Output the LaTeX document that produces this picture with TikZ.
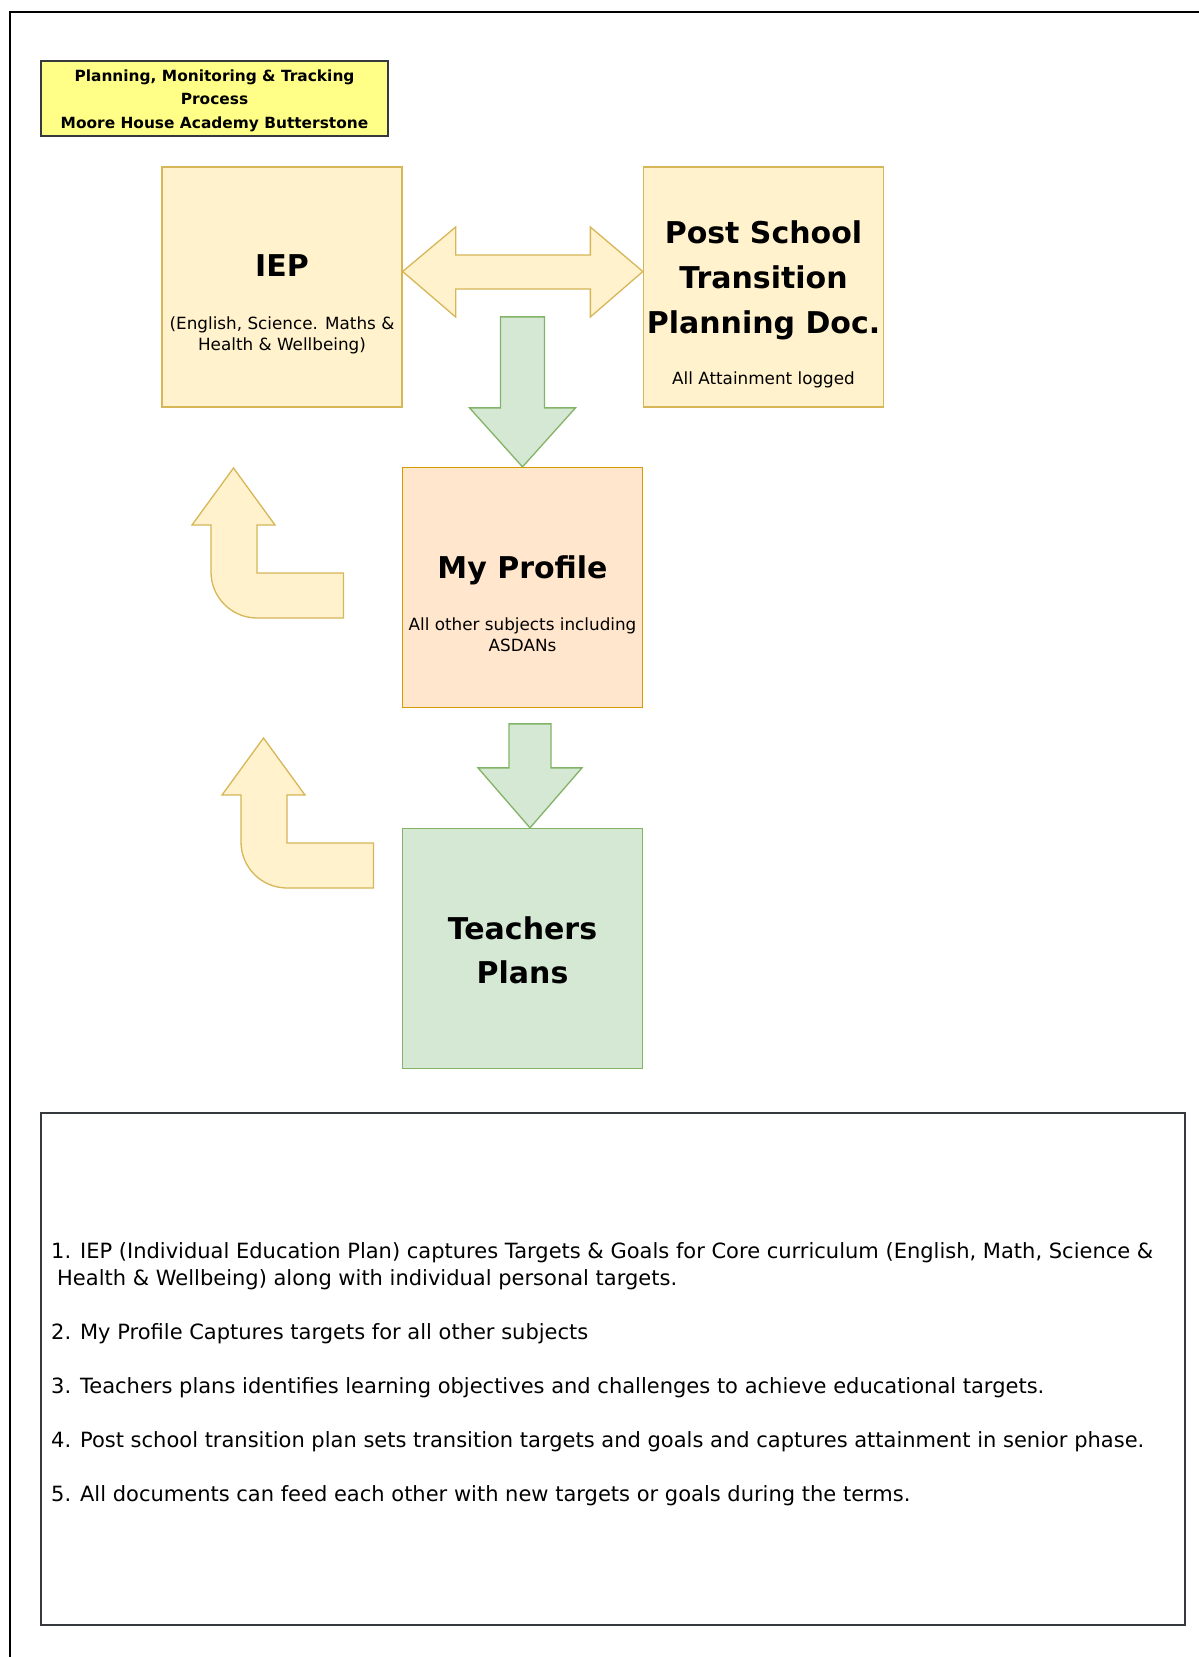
\documentclass[tikz,border=0pt]{standalone}
\usepackage{fontspec}
\setmainfont{DejaVu Sans}
\usetikzlibrary{positioning,calc}
\definecolor{PaleYellow}{HTML}{FFF2CC}
\definecolor{YellowLine}{HTML}{D6B656}
\definecolor{PaleOrange}{HTML}{FFE6CC}
\definecolor{OrangeLine}{HTML}{D79B00}
\definecolor{PaleGreen}{HTML}{D5E8D4}
\definecolor{GreenLine}{HTML}{82B366}
\definecolor{NoteYellow}{HTML}{FFFF88}
\definecolor{NoteLine}{HTML}{36393D}
\tikzset{
  docbox/.style={
    draw,
    line width=1.3pt,
    minimum width=240pt,
    minimum height=240pt,
    inner sep=0pt
  },
  iepbox/.style={docbox,draw=YellowLine,fill=PaleYellow},
  profilebox/.style={docbox,draw=OrangeLine,fill=PaleOrange},
  planbox/.style={docbox,draw=GreenLine,fill=PaleGreen},
  bigtext/.style={font=\fontsize{30}{45}\selectfont\bfseries,align=center,inner sep=0pt},
  smalltext/.style={font=\fontsize{16.8}{21}\selectfont,align=center,inner sep=0pt},
  yellowarrow/.style={draw=YellowLine,fill=PaleYellow,line width=1.3pt},
  greenarrow/.style={draw=GreenLine,fill=PaleGreen,line width=1.3pt},
  bentup/.pic={
    \draw[yellowarrow] (0,0) -- (41.5,57) -- (23.5,57) -- (23.5,105) -- (110,105)
      -- (110,150) -- (23.5,150) arc[start angle=270,end angle=180,radius=46pt]
      -- (-22.5,57) -- (-41.5,57) -- cycle;
  }
}

\begin{document}
\begin{tikzpicture}[x=1pt,y=-1pt]
  \useasboundingbox (0,0) rectangle (1199,1657);
  % page frame
  \draw[line width=2.5pt] (10,1657) -- (10,12) -- (1199,12);

  % heading note
  \node[draw=NoteLine,fill=NoteYellow,line width=1.5pt,minimum width=347pt,minimum height=75pt,inner sep=0pt]
    (heading) at (214.5,98.5) {};
  \node[font=\fontsize{15.4}{23.5}\selectfont\bfseries,align=center,inner sep=0pt]
    (headtext) at ($(heading)+(0,2)$) {Planning, Monitoring \& Tracking\\Process\\Moore House Academy Butterstone};

  % documents
  \node[iepbox] (iep) at (282,287) {};
  \node[iepbox] (post) at (763.5,287) {};
  \node[profilebox] (prof) at (522.5,587.5) {};
  \node[planbox] (teach) at (522.5,948.5) {};

  \node[bigtext] (ieptitle) at ($(iep)+(0,-21)$) {IEP};
  \node[smalltext] (iepsub) at ($(iep)+(0,48)$) {(English, Science. Maths \&\\Health \& Wellbeing)};
  \node[bigtext] (posttitle) at ($(post)+(0,-7)$) {Post School\\Transition\\Planning Doc.};
  \node[smalltext] (postsub) at ($(post)+(0,92.5)$) {All Attainment logged};
  \node[bigtext,anchor=base] (proftitle) at ($(prof)+(0,-9.5)$) {My Profile};
  \node[smalltext] (profsub) at ($(prof)+(0,47)$) {All other subjects including\\ASDANs};
  \node[bigtext,font=\fontsize{30}{44}\selectfont\bfseries] (teachtitle) at ($(teach)+(0,1.5)$) {Teachers\\Plans};

  % block arrows
  \coordinate (dl) at ($(iep.east)+(0,-15.5)$);
  \coordinate (dr) at ($(post.west)+(0,-15.5)$);
  \draw[yellowarrow] (dl) -- ($(dl)+(53,-44.5)$) -- ($(dl)+(53,-16.5)$) -- ($(dr)+(-52.5,-16.5)$)
    -- ($(dr)+(-52.5,-44.5)$) -- (dr) -- ($(dr)+(-52.5,45.5)$) -- ($(dr)+(-52.5,17.5)$)
    -- ($(dl)+(53,17.5)$) -- ($(dl)+(53,45.5)$) -- cycle;

  \draw[greenarrow] (prof.north) -- ($(prof.north)+(53,-59)$) -- ($(prof.north)+(22,-59)$)
    -- ($(prof.north)+(22,-150)$) -- ($(prof.north)+(-22,-150)$) -- ($(prof.north)+(-22,-59)$)
    -- ($(prof.north)+(-53,-59)$) -- cycle;

  \coordinate (tip) at ($(teach.north)+(7.5,0)$);
  \draw[greenarrow] (tip) -- ($(tip)+(52,-60)$) -- ($(tip)+(21,-60)$) -- ($(tip)+(21,-104)$)
    -- ($(tip)+(-21,-104)$) -- ($(tip)+(-21,-60)$) -- ($(tip)+(-52,-60)$) -- cycle;

  \pic at (233.5,468) {bentup};
  \pic at (263.5,738) {bentup};

  % notes
  \node[draw=NoteLine,line width=1.5pt,minimum width=1144pt,minimum height=512pt,inner sep=0pt]
    (notes) at (613,1369) {};
  \node[anchor=north west,align=left,inner sep=0pt,font=\fontsize{21}{27}\selectfont]
    (notetext) at (51,1242) {1. IEP (Individual Education Plan) captures Targets \& Goals for Core curriculum (English, Math, Science \&\\
    \hspace*{6pt}Health \& Wellbeing) along with individual personal targets.\\[27pt]
    2. My Profile Captures targets for all other subjects\\[27pt]
    3. Teachers plans identifies learning objectives and challenges to achieve educational targets.\\[27pt]
    4. Post school transition plan sets transition targets and goals and captures attainment in senior phase.\\[27pt]
    5. All documents can feed each other with new targets or goals during the terms.};
\end{tikzpicture}
\end{document}
